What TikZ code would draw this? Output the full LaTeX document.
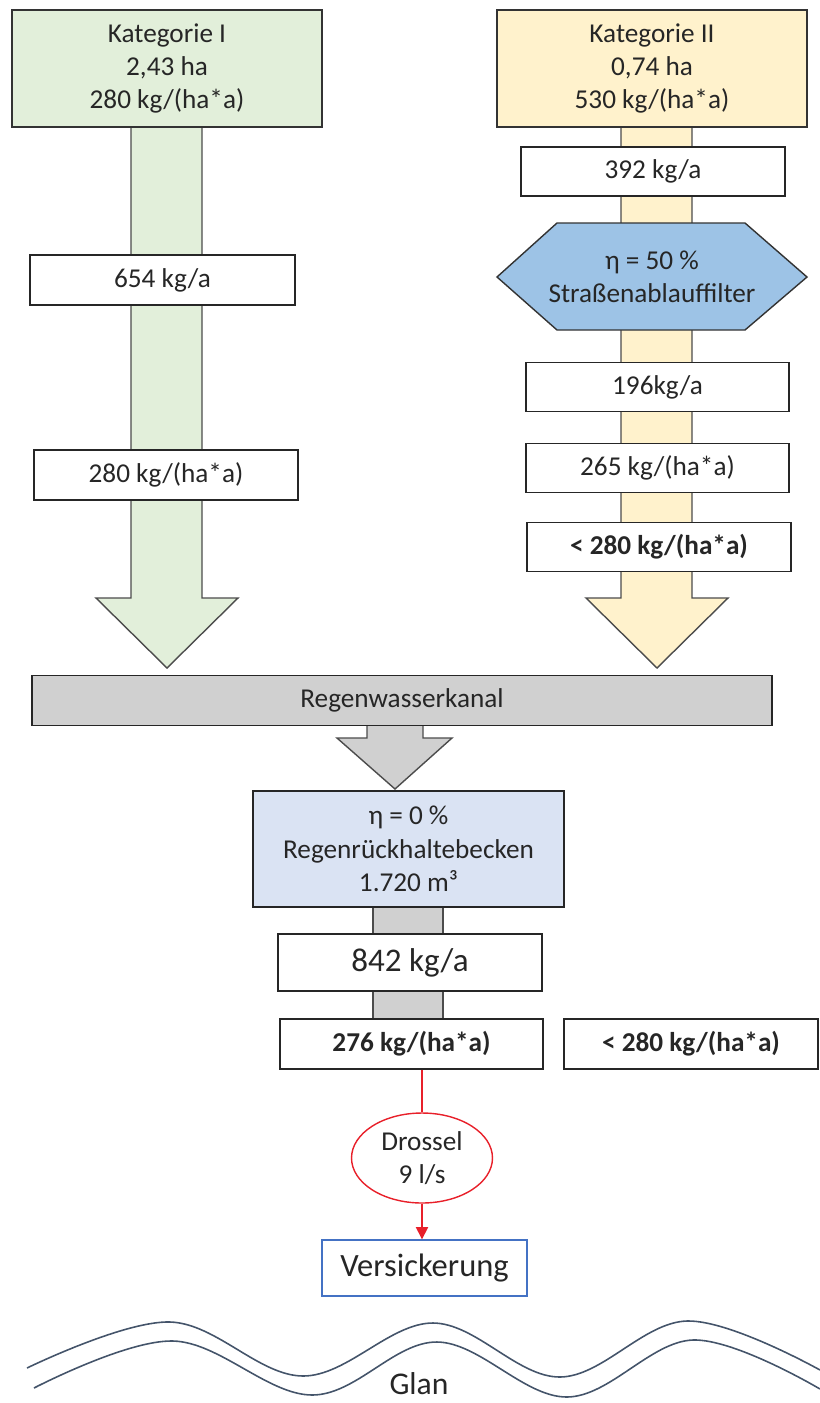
\documentclass[tikz,border=0pt]{standalone}
\usepackage{fontspec}
\setmainfont{Carlito}
\usepackage{tikz}
\usetikzlibrary{shapes,arrows.meta,positioning,calc}

\definecolor{katgreen}{HTML}{E2EFDA}
\definecolor{katyellow}{HTML}{FFF2CC}
\definecolor{kanalgray}{HTML}{D0D0D0}
\definecolor{filterblue}{HTML}{9DC3E6}
\definecolor{beckenblue}{HTML}{DAE3F3}
\definecolor{sickerblue}{HTML}{4472C4}
\definecolor{glanblue}{HTML}{44546A}
\definecolor{drosselred}{HTML}{E8202A}

\begin{document}
\begin{tikzpicture}[x=0.02cm,y=-0.02cm,
    every node/.style={font=\fontsize{15.5pt}{19pt}\selectfont, text=black!85, align=center},
    flow/.style={draw=black!70, line width=0.8pt},
    catbox/.style={draw=black!80, line width=0.8pt, minimum width=6.2cm, minimum height=2.34cm},
    valbox/.style={draw=black!85, fill=white, line width=0.8pt, minimum width=5.28cm, minimum height=1cm},
    redline/.style={drosselred, line width=0.8pt},
    river/.style={glanblue, line width=0.9pt}]
    \useasboundingbox (0,0) rectangle (820,1403);

    % flow arrows behind the boxes
    \draw[flow, fill=katgreen] (131,127) -- (131,598) -- (96,598) -- (167,668) -- (238,598) -- (202,598) -- (202,127) -- cycle;
    \draw[flow, fill=katyellow] (621,127) -- (621,598) -- (586,598) -- (657,668) -- (728,598) -- (692,598) -- (692,127) -- cycle;
    \draw[flow, fill=kanalgray] (367,725) -- (367,738) -- (337,738) -- (395,789) -- (452,738) -- (423,738) -- (423,725) -- cycle;
    \draw[flow, fill=kanalgray] (373,907) rectangle (443,1019);

    % Kategorie I
    \node[catbox, fill=katgreen] (kat1) at (167,68.5) {Kategorie I\\2,43 ha\\280 kg/(ha*a)};
    \node[valbox, minimum width=5.3cm] (k654) at (162.5,280) {654 kg/a};
    \node[valbox] (k280) at (166,475) {280 kg/(ha*a)};

    % Kategorie II
    \node[catbox, fill=katyellow] (kat2) at (652,68.5) {Kategorie II\\0,74 ha\\530 kg/(ha*a)};
    \node[valbox, minimum height=0.98cm] (k392) at (653,171.5) {392 kg/a};
    \draw[draw=black!80, fill=filterblue, line width=0.8pt] (497,277) -- (557,223) -- (745,223) -- (807,277) -- (745,330) -- (557,330) -- cycle;
    \node (filter) at (652,276.5) {η = 50 \%\\Straßenablauffilter};
    \node[valbox, minimum width=5.26cm, minimum height=0.98cm] (k196) at (657.5,387) {196kg/a};
    \node[valbox, minimum width=5.26cm, minimum height=0.98cm] (k265) at (657.5,468) {265 kg/(ha*a)};
    \node[valbox, minimum height=0.98cm, font=\fontsize{15.5pt}{19pt}\selectfont\bfseries] (klt280) at (659,547) {< 280 kg/(ha*a)};

    % Kanal und Becken
    \node[draw=black!85, fill=kanalgray, line width=0.8pt, minimum width=14.8cm, minimum height=1cm] (kanal) at (402,700.5) {Regenwasserkanal};
    \node[draw=black!85, fill=beckenblue, line width=0.8pt, minimum width=6.22cm, minimum height=2.32cm] (becken) at (408.5,849)
          {η = 0 \%\\Regenrückhaltebecken\\1.720 m³};
    \node[valbox, minimum height=1.14cm, font=\fontsize{18.8pt}{22pt}\selectfont] (k842) at (410,962.5) {842 kg/a};
    \node[valbox, minimum width=5.26cm, font=\fontsize{15.5pt}{19pt}\selectfont\bfseries] (k276) at (411.5,1044) {276 kg/(ha*a)};
    \node[valbox, minimum width=5.08cm, font=\fontsize{15.5pt}{19pt}\selectfont\bfseries] (klt280b) at (691,1044) {< 280 kg/(ha*a)};

    % Drossel und Versickerung
    \node[ellipse, draw=drosselred, line width=0.8pt, minimum width=2.82cm, minimum height=1.8cm, inner sep=0pt] (drossel) at (422,1158) {Drossel\\9 l/s};
    \node[draw=sickerblue, line width=0.8pt, minimum width=4.1cm, minimum height=1.12cm, font=\fontsize{18.5pt}{22pt}\selectfont] (versick) at (424.5,1268) {Versickerung};
    \draw[redline] (k276.south -| drossel.north) -- (drossel.north);
    \draw[redline, -{Triangle[width=7pt,length=7pt]}] (drossel.south) -- (drossel.south |- versick.north);

    % Glan
    \draw[river] plot[smooth, tension=0.6] coordinates {(27,1368) (170,1322) (303,1376) (433,1323) (560,1377) (687,1321) (820,1370)};
    \draw[river] plot[smooth, tension=0.6] coordinates {(34,1388) (173,1341) (312,1395) (437,1342) (567,1397) (693,1340) (820,1389)};
    \node[anchor=base, inner sep=0pt, font=\fontsize{18pt}{22pt}\selectfont] (glan) at (419,1394) {Glan};
\end{tikzpicture}
\end{document}
